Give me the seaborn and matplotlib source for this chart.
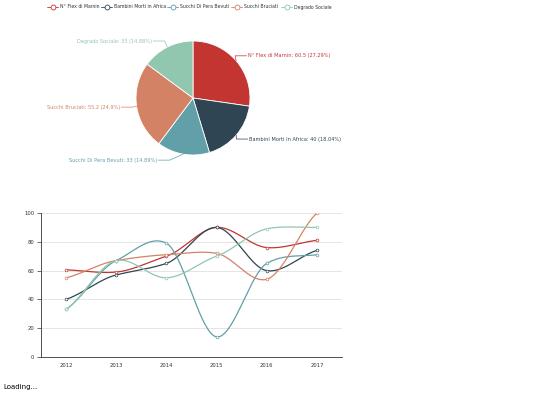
import numpy as np
import matplotlib
matplotlib.use("Agg")
import matplotlib.pyplot as plt
import seaborn as sns
from matplotlib.lines import Line2D

sns.set_theme(style="white")
plt.rcParams['font.family'] = ['DejaVu Sans']

names = ["N° Flex di Marnin", "Bambini Morti in Africa", "Succhi Di Pera Bevuti", "Succhi Bruciati", "Degrado Sociale"]
pie_values = [60.5, 40, 33, 55.2, 33]
pie_pcts = ["27.29%", "18.04%", "14.89%", "24.9%", "14.88%"]
colors = ["#c23531", "#2f4554", "#61a0a8", "#d48265", "#91c7ae"]
years = ["2012", "2013", "2014", "2015", "2016", "2017"]
flex = [60.5, 59, 70, 90, 76, 81]
bambini = [40, 57, 65, 90, 60, 74]
pera = [33, 67, 79, 14, 65, 71]
bruciati = [55, 67, 71, 72, 54, 100]
degrado = [33, 67, 55, 70, 89, 90]
series = [flex, bambini, pera, bruciati, degrado]

W, H = 540, 405
fig = plt.figure(figsize=(5.4, 4.05), dpi=100)

# legend
lx = [47, 101, 167, 231, 281]
for i, n in enumerate(names):
    xf = lx[i] / W; yf = 1 - 7 / H
    fig.add_artist(Line2D([xf, xf + 11 / W], [yf, yf], color=colors[i], lw=0.6))
    fig.add_artist(Line2D([xf + 5.5 / W], [yf], color=colors[i], marker="o", markersize=3.5,
                          markerfacecolor="white", markeredgewidth=0.6))
    fig.text(xf + 13 / W, yf, n, fontsize=3.3, color="#333", va="center")

# pie
cx, cy, r = 193, 98, 57
pax = fig.add_axes([(cx - r) / W, (H - cy - r) / H, 2 * r / W, 2 * r / H])
wedges, _ = pax.pie(pie_values, colors=colors, startangle=90, counterclock=False,
                    wedgeprops=dict(linewidth=0.6, edgecolor="white"))
pax.set_aspect("auto")
label_pos = [(0.96, 0.74), (0.98, -0.72), (-0.63, -1.09), (-1.28, -0.16), (-0.72, 1.0)]
for i, w in enumerate(wedges):
    ang = np.deg2rad((w.theta1 + w.theta2) / 2)
    px, py = np.cos(ang), np.sin(ang)
    tx, ty = label_pos[i]
    right = tx > 0
    ex = tx - 0.02 if right else tx + 0.02
    ex2 = ex - 0.2 if right else ex + 0.2
    pax.plot([px, ex2, ex], [py, ty, ty], color=colors[i], lw=0.5, clip_on=False)
    pax.text(tx, ty, f"{names[i]}: {pie_values[i]:g} ({pie_pcts[i]})",
             fontsize=3.6, color=colors[i], va="center", ha="left" if right else "right")
pax.set_xlim(-1, 1); pax.set_ylim(-1, 1)

# lines
ax = fig.add_axes([41 / W, (H - 357) / H, 301 / W, 144 / H])
xs = np.arange(len(years))

def smooth(y, n=40):
    y = np.asarray(y, float)
    pts = np.concatenate([[2 * y[0] - y[1]], y, [2 * y[-1] - y[-2]]])
    px = np.concatenate([[-1], xs, [len(xs)]]).astype(float)
    ox, oy = [], []
    for i in range(1, len(pts) - 2):
        t = np.linspace(0, 1, n)
        p0, p1, p2, p3 = pts[i - 1:i + 3]
        m1 = (p2 - p0) / 2 * 0.7; m2 = (p3 - p1) / 2 * 0.7
        h00 = 2*t**3 - 3*t**2 + 1; h10 = t**3 - 2*t**2 + t
        h01 = -2*t**3 + 3*t**2; h11 = t**3 - t**2
        oy.append(h00*p1 + h10*m1 + h01*p2 + h11*m2)
        ox.append(px[i] + t)
    return np.concatenate(ox), np.concatenate(oy)

for i, s in enumerate(series):
    sx, sy = smooth(s)
    sns.lineplot(x=sx, y=sy, ax=ax, color=colors[i], lw=0.9, sort=False, estimator=None)
    sns.scatterplot(x=xs, y=s, ax=ax, color="white", edgecolor=colors[i], s=4, linewidth=0.5, zorder=5)

ax.set_xlim(-0.5, 5.5); ax.set_ylim(0, 100)
ax.set_xticks(xs); ax.set_xticklabels(years, fontsize=3.8, color="#333")
ax.set_yticks(range(0, 101, 20)); ax.set_yticklabels([str(v) for v in range(0, 101, 20)], fontsize=3.8, color="#333")
ax.set_xticks(np.arange(-0.5, 6, 1), minor=True)
ax.tick_params(axis="x", which="minor", length=3, color="#333", width=0.5)
ax.tick_params(axis="x", which="major", length=0, pad=4)
ax.tick_params(axis="y", length=3, color="#333", width=0.5, left=True, pad=2)
ax.grid(axis="y", color="#e0e0e0", lw=0.6)
for sp in ["top", "right"]:
    ax.spines[sp].set_visible(False)
for sp in ["left", "bottom"]:
    ax.spines[sp].set_color("#333"); ax.spines[sp].set_linewidth(0.6)

fig.text(3 / W, 1 - 387 / H, "Loading...", fontsize=5, color="#000", va="center")
fig.savefig("out.png", dpi=100, facecolor="white")
